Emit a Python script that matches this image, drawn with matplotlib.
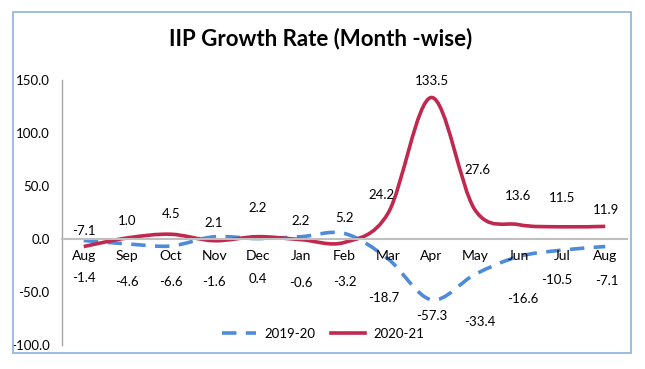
import numpy as np
import matplotlib
matplotlib.use('Agg')
import matplotlib.pyplot as plt
from matplotlib.path import Path
from matplotlib.patches import PathPatch, Rectangle
from matplotlib.lines import Line2D

months = ['Aug', 'Sep', 'Oct', 'Nov', 'Dec', 'Jan', 'Feb', 'Mar', 'Apr', 'May', 'Jun', 'Jul', 'Aug']
growth_2019 = [-1.4, -4.6, -6.6, 2.1, 0.4, 2.2, 5.2, -18.7, -57.3, -33.4, -16.6, -10.5, -7.1]
growth_2020 = [-7.1, 1.0, 4.5, -1.6, 2.2, -0.6, -3.2, 24.2, 133.5, 27.6, 13.6, 11.5, 11.9]

# label offsets (pixels) as placed on the original chart
off_2019 = [(0, -38), (0, -38), (0, -36), (0, 14), (0, -40), (0, 16), (0, 15),
            (-4, -39), (0, -16), (5, -48), (4, -42), (-5, -30), (2, -34)]
off_2020 = [(0, 16), (0, 17), (0, 20), (0, -41), (0, 29), (0, -43), (0, -40),
            (-6, 18), (0, 16), (3, 40), (0, 29), (0, 29), (1, 16)]

BLUE = '#4F8BDB'
RED = '#C0284E'
plt.rcParams['font.family'] = ['Lato', 'DejaVu Sans']


def smooth_path(xs, ys):
    '''Excel-style smoothed line: cubic bezier through every point.'''
    pts = np.column_stack([xs, ys]).astype(float)
    n = len(pts)
    verts = [pts[0]]
    codes = [Path.MOVETO]
    for i in range(n - 1):
        p0 = pts[max(i - 1, 0)]
        p1 = pts[i]
        p2 = pts[i + 1]
        p3 = pts[min(i + 2, n - 1)]
        c1 = p1 + (p2 - p0) / 6.0
        c2 = p2 - (p3 - p1) / 6.0
        verts += [c1, c2, p2]
        codes += [Path.CURVE4] * 3
    return Path(verts, codes)


fig = plt.figure(figsize=(6.45, 3.69), dpi=100)
fig.patches.append(Rectangle((13 / 645, 1 - 353 / 369), 618 / 645, 341 / 369,
                             transform=fig.transFigure, fill=False,
                             edgecolor='#8EB1DD', linewidth=1.2))
ax = fig.add_axes([62 / 645, 1 - 345 / 369, 565 / 645, 265 / 369])
x = np.arange(len(months))

ax.add_patch(PathPatch(smooth_path(x, growth_2019), fill=False, edgecolor=BLUE,
                       linewidth=2.6, linestyle=(0, (4, 2.6)), capstyle='butt'))
ax.add_patch(PathPatch(smooth_path(x, growth_2020), fill=False, edgecolor=RED,
                       linewidth=2.6))

for xi, v, o in zip(x, growth_2019, off_2019):
    ax.annotate('%.1f' % v, (xi, v), xytext=o, textcoords='offset pixels',
                ha='center', va='center', fontsize=9.5)
for xi, v, o in zip(x, growth_2020, off_2020):
    ax.annotate('%.1f' % v, (xi, v), xytext=o, textcoords='offset pixels',
                ha='center', va='center', fontsize=9.5)

ax.set_xlim(-0.5, len(months) - 0.5)
ax.set_ylim(-100, 150)
ax.set_yticks(np.arange(-100, 151, 50))
ax.set_yticklabels(['%.1f' % t for t in np.arange(-100, 151, 50)], fontsize=9.5)
ax.set_xticks(x)
ax.set_xticklabels(months, fontsize=9.5)
ax.tick_params(axis='both', length=0)
ax.tick_params(axis='y', pad=9)
ax.tick_params(axis='x', pad=8)
ax.spines['bottom'].set_position(('data', 0))
ax.spines['bottom'].set_color('#BFBFBF')
ax.spines['bottom'].set_linewidth(1.5)
ax.spines['left'].set_color('#A6A6A6')
ax.spines['left'].set_linewidth(1.0)
ax.spines['top'].set_visible(False)
ax.spines['right'].set_visible(False)
ax.patch.set_alpha(0)

fig.text(321 / 645, 1 - 39 / 369, 'IIP Growth Rate (Month -wise)', ha='center', va='center',
         fontsize=16, fontweight='bold')

handles = [Line2D([], [], color=BLUE, linewidth=2.6, linestyle=(0, (4, 2.6))),
           Line2D([], [], color=RED, linewidth=2.6)]
fig.legend(handles, ['2019-20', '2020-21'], loc='center', ncol=2,
           bbox_to_anchor=(323 / 645, 1 - 334 / 369), frameon=False, fontsize=9.5,
           handlelength=2.6, handletextpad=0.6, columnspacing=1.2)

fig.savefig('out.png', dpi=100)
